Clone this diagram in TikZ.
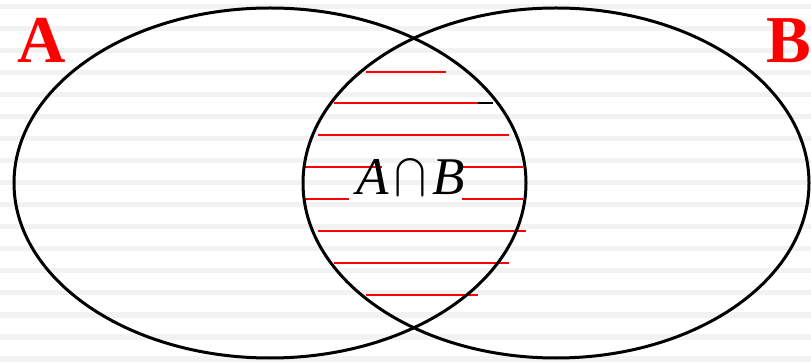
\documentclass[tikz,border=0pt]{standalone}
\usepackage{fontspec}
\setmainfont{Liberation Serif}
\newsavebox\capglyphbox
\begin{document}
\begin{tikzpicture}[x=1pt,y=-1pt,
  stripe/.style={fill=black!5,draw=none},
  hatch/.style={red,line width=2pt},
  setline/.style={black,line width=3pt},
  setlabel/.style={text=red,font=\fontsize{67}{70}\selectfont\bfseries,inner sep=0pt}]
\useasboundingbox (0,0) rectangle (811,363);
\fill[white] (0,0) rectangle (811,363);
% background stripes
\foreach \k in {0,...,16}{
  \fill[stripe] (0,{4+22*\k}) rectangle (811,{9.5+22*\k});
}
% hatch lines
\coordinate (h1a) at (366,71.7); \coordinate (h1b) at (446,71.7);
\coordinate (h2a) at (334,103.5); \coordinate (h2b) at (478,103.5); \coordinate (h2c) at (493,103.5);
\coordinate (h3a) at (318,135.5); \coordinate (h3b) at (509,135.5);
\coordinate (h4a) at (305,167.5); \coordinate (h4b) at (382,167.5);
\coordinate (h4c) at (462,167.5); \coordinate (h4d) at (523,167.5);
\coordinate (h5a) at (305,199.5); \coordinate (h5b) at (349,199.5);
\coordinate (h5c) at (462,199.5); \coordinate (h5d) at (523,199.5);
\coordinate (h6a) at (318,231.5); \coordinate (h6b) at (526,231.5);
\coordinate (h7a) at (334,263.5); \coordinate (h7b) at (509,263.5);
\coordinate (h8a) at (366,295.5); \coordinate (h8b) at (478,295.5);
\draw[hatch] (h1a) -- (h1b);
\draw[hatch] (h2a) -- (h2b);
\draw[black,line width=2pt] (h2b) -- (h2c);
\draw[hatch] (h3a) -- (h3b);
\draw[hatch] (h4a) -- (h4b);
\draw[hatch] (h4c) -- (h4d);
\draw[hatch] (h5a) -- (h5b);
\draw[hatch] (h5c) -- (h5d);
\draw[hatch] (h6a) -- (h6b);
\draw[hatch] (h7a) -- (h7b);
\draw[hatch] (h8a) -- (h8b);
% intersection label
\node[inner sep=0pt,anchor=base,font=\fontsize{53}{60}\selectfont] (cap) at (410.5,195)
  {\sbox\capglyphbox{\fontsize{10}{12}\selectfont$\displaystyle\bigcap$}%
   \itshape A\hspace{6pt}\raisebox{-5pt}{\resizebox{30pt}{44pt}{\raisebox{\dp\capglyphbox}{\usebox\capglyphbox}}}\hspace{7pt}B};
% set labels
\node[setlabel,anchor=base west] (la) at (17,63) {A};
\node[setlabel,anchor=base east] (lb) at (811,63) {B};
% ellipses
\draw[setline] (270,183) ellipse [x radius=256, y radius=175];
\draw[setline] (556,183) ellipse [x radius=253, y radius=175];
\end{tikzpicture}
\end{document}
